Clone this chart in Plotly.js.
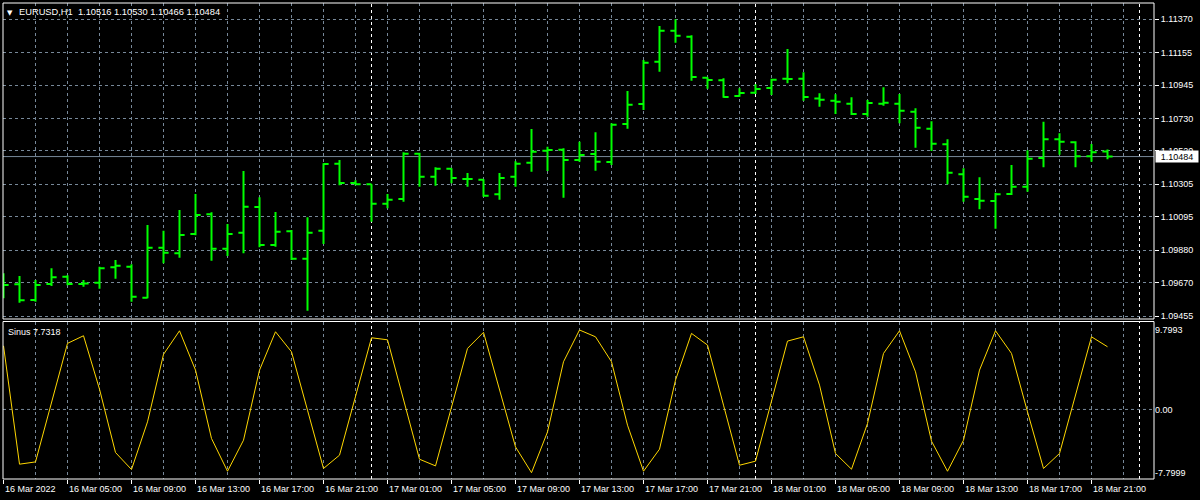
<!DOCTYPE html>
<html><head><meta charset="utf-8">
<script src="https://cdn.plot.ly/plotly-3.0.1.min.js"></script>
<style>html,body{margin:0;padding:0;background:#000;} #chart{width:1200px;height:500px;}</style>
</head><body><div id="chart"></div>
<script>
const symbol = 'EURUSD,H1';
const indicatorName = 'Sinus';
const startTime = '2022-03-16 01:00';

const open = [1.09640,1.09660,1.09558,1.09662,1.09709,1.09662,1.09670,1.09769,1.09773,1.09573,
1.09896,1.09860,1.09984,1.10111,1.09889,1.09993,1.10159,1.09913,1.10002,1.09825,
1.10006,1.10438,1.10313,1.10305,1.10180,1.10210,1.10503,1.10354,1.10406,1.10339,
1.10335,1.10241,1.10354,1.10444,1.10522,1.10528,1.10462,1.10501,1.10449,1.10694,
1.10823,1.11096,1.11296,1.11258,1.10993,1.10976,1.10875,1.10896,1.10927,1.10987,
1.10987,1.10858,1.10845,1.10825,1.10759,1.10825,1.10825,1.10774,1.10664,1.10563,
1.10370,1.10210,1.10197,1.10242,1.10290,1.10475,1.10595,1.10576,1.10486,1.10516];
const high = [1.09731,1.09713,1.09687,1.09763,1.09718,1.09687,1.09773,1.09816,1.09789,1.10042,
1.10006,1.10139,1.10242,1.10124,1.10049,1.10391,1.10221,1.10126,1.10010,1.10092,
1.10441,1.10462,1.10331,1.10306,1.10242,1.10512,1.10509,1.10415,1.10408,1.10378,
1.10338,1.10378,1.10453,1.10662,1.10548,1.10537,1.10580,1.10641,1.10699,1.10907,
1.11107,1.11327,1.11370,1.11267,1.10996,1.10989,1.10925,1.10950,1.10987,1.11178,
1.11028,1.10892,1.10886,1.10867,1.10849,1.10931,1.10888,1.10796,1.10712,1.10595,
1.10408,1.10350,1.10251,1.10430,1.10524,1.10709,1.10634,1.10583,1.10565,1.10530];
const low = [1.09569,1.09541,1.09547,1.09649,1.09653,1.09644,1.09631,1.09696,1.09547,1.09569,
1.09795,1.09831,1.09976,1.09812,1.09842,1.09860,1.09898,1.09902,1.09816,1.09489,
1.09920,1.10299,1.10299,1.10064,1.10150,1.10193,1.10290,1.10296,1.10311,1.10290,
1.10225,1.10206,1.10290,1.10386,1.10391,1.10219,1.10451,1.10393,1.10430,1.10664,
1.10785,1.11032,1.11219,1.10974,1.10922,1.10864,1.10870,1.10888,1.10881,1.10957,
1.10845,1.10806,1.10759,1.10752,1.10741,1.10812,1.10699,1.10541,1.10520,1.10305,
1.10193,1.10144,1.10018,1.10236,1.10257,1.10415,1.10496,1.10415,1.10451,1.10466];
const close = [1.09655,1.09556,1.09655,1.09705,1.09662,1.09665,1.09763,1.09780,1.09580,1.09896,
1.09864,1.09978,1.10107,1.09889,1.09984,1.10160,1.09913,1.09999,1.09825,1.09993,
1.10436,1.10313,1.10305,1.10180,1.10206,1.10503,1.10354,1.10406,1.10346,1.10340,
1.10231,1.10346,1.10438,1.10515,1.10526,1.10462,1.10494,1.10451,1.10690,1.10819,
1.11090,1.11296,1.11264,1.10998,1.10978,1.10868,1.10894,1.10920,1.10980,1.10985,
1.10868,1.10851,1.10838,1.10759,1.10830,1.10832,1.10780,1.10670,1.10567,1.10380,
1.10225,1.10199,1.10241,1.10290,1.10470,1.10595,1.10580,1.10486,1.10512,1.10484];

const sinus = [7.85,-6.75,-6.47,0.84,8.15,9.09,2.5,-5.31,-7.41,-1.53,
6.79,9.70,4.85,-3.58,-7.62,-3.79,4.85,9.58,7.11,-0.09,
-7.28,-5.64,1.5,8.84,8.59,1.27,-6.14,-6.96,0.28,7.53,
9.51,2.51,-4.62,-7.7999,-2.77,5.88,9.7993,8.96,5.88,-1.94,
-7.62,-4.90,3.62,9.38,7.94,0.53,-6.88,-6.38,1.02,8.43,
8.96,3.00,-5.43,-7.37,-1.73,6.91,9.70,4.64,-3.91,-7.62,
-3.79,4.85,9.70,6.91,-0.30,-7.28,-5.43,1.77,8.96,7.7318];

const priceTicks = [1.11370,1.11155,1.10945,1.10730,1.10520,1.10305,1.10095,1.09880,1.09670,1.09455];

const timeLabels = ['16 Mar 2022','16 Mar 05:00','16 Mar 09:00','16 Mar 13:00','16 Mar 17:00','16 Mar 21:00',
'17 Mar 01:00','17 Mar 05:00','17 Mar 09:00','17 Mar 13:00','17 Mar 17:00','17 Mar 21:00',
'18 Mar 01:00','18 Mar 05:00','18 Mar 09:00','18 Mar 13:00','18 Mar 17:00','18 Mar 21:00'];
const timeLabelAt = ['2022-03-16 01:00','2022-03-16 05:00','2022-03-16 09:00','2022-03-16 13:00','2022-03-16 17:00','2022-03-16 21:00',
'2022-03-17 01:00','2022-03-17 05:00','2022-03-17 09:00','2022-03-17 13:00','2022-03-17 17:00','2022-03-17 21:00',
'2022-03-18 01:00','2022-03-18 05:00','2022-03-18 09:00','2022-03-18 13:00','2022-03-18 17:00','2022-03-18 21:00'];
const daySeparators = ['2022-03-17 00:00','2022-03-18 00:00','2022-03-19 00:00'];

const HOUR = 3600000;
const t0 = Date.UTC(2022,2,16,1);
function fmt(ms){const d=new Date(ms);const p=n=>String(n).padStart(2,'0');
  return d.getUTCFullYear()+'-'+p(d.getUTCMonth()+1)+'-'+p(d.getUTCDate())+' '+p(d.getUTCHours())+':'+p(d.getUTCMinutes());}
const times = close.map((_,i)=>fmt(t0+i*HOUR));

const x0 = t0 - 0.03125*HOUR;
const x1 = x0 + (1151/16)*HOUR;

const gridColor = '#778899';
const dash = '3px,3px';
const font = {family:'Liberation Sans, Arial, sans-serif', size:9, color:'#ffffff'};

const n = close.length;
const lastO = open[n-1], lastH = high[n-1], lastL = low[n-1], lastC = close[n-1];
const sMax = Math.max(...sinus), sMin = Math.min(...sinus);

const traces = [
  {type:'ohlc', x:times, open:open, high:high, low:low, close:close, xaxis:'x', yaxis:'y',
   increasing:{line:{color:'#00ff00', width:2}}, decreasing:{line:{color:'#00ff00', width:2}},
   tickwidth:0.32, hoverinfo:'skip'},
  {type:'scatter', mode:'lines', x:times, y:sinus, xaxis:'x2', yaxis:'y2',
   line:{color:'#ffd700', width:1}, hoverinfo:'skip'}
];

const shapes = [];
daySeparators.forEach(t=>{
  shapes.push({type:'line', xref:'x', x0:t, x1:t, yref:'y domain', y0:0, y1:1, line:{color:'#ffffff', width:1, dash:dash}, layer:'below'});
  shapes.push({type:'line', xref:'x2', x0:t, x1:t, yref:'y2 domain', y0:0, y1:1, line:{color:'#ffffff', width:1, dash:dash}, layer:'below'});
});
shapes.push({type:'line', xref:'x domain', x0:0, x1:1, yref:'y', y0:lastC, y1:lastC, line:{color:gridColor, width:1}, layer:'below'});
shapes.push({type:'line', xref:'x2 domain', x0:0, x1:1, yref:'y2', y0:0, y1:0, line:{color:gridColor, width:1, dash:dash}, layer:'below'});
shapes.push({type:'rect', xref:'x domain', x0:0, x1:1, yref:'y domain', y0:0, y1:1, line:{color:'#ffffff', width:1}, layer:'above'});
shapes.push({type:'rect', xref:'x2 domain', x0:0, x1:1, yref:'y2 domain', y0:0, y1:1, line:{color:'#ffffff', width:1}, layer:'above'});

function lastVal(){return sinus[n-1].toFixed(4);}
const annotations = [
  {xref:'paper', x:0, xanchor:'left', xshift:2, yref:'paper', y:1, yanchor:'top', yshift:-4,
   text:'▼', font:{family:'DejaVu Sans', size:7, color:'#ffffff'}, showarrow:false},
  {xref:'paper', x:0, xanchor:'left', xshift:14, yref:'paper', y:1, yanchor:'top', yshift:-2,
   text:symbol+'\u00a0\u00a0'+[lastO,lastH,lastL,lastC].map(v=>v.toFixed(5)).join(' '), font:{family:font.family, size:9.3, color:'#ffffff'}, showarrow:false},
  {xref:'paper', x:0, xanchor:'left', xshift:3, yref:'y2 domain', y:1, yanchor:'top', yshift:-3,
   text:indicatorName+' '+lastVal(), font:font, showarrow:false},
  {xref:'paper', x:1, xanchor:'left', xshift:1, yref:'y', y:lastC, yanchor:'middle',
   text:lastC.toFixed(5), font:{family:font.family, size:9, color:'#000000'}, bgcolor:'#ffffff',
   width:40, height:9, borderpad:1, showarrow:false}
];
timeLabels.forEach((lab,i)=>{
  annotations.push({xref:'x2', x:timeLabelAt[i], xanchor:'left', xshift:-1, yref:'paper', y:0, yanchor:'top', yshift:-3,
    text:lab, font:font, showarrow:false});
});

const layout = {
  width:1200, height:500, paper_bgcolor:'#000000', plot_bgcolor:'#000000',
  margin:{l:3, r:46, t:3, b:21}, showlegend:false, font:font,
  xaxis:{type:'date', domain:[0,1], anchor:'y', range:[x0,x1], rangeslider:{visible:false},
    showticklabels:false, ticks:'', tick0:startTime, dtick:2*HOUR, showgrid:true, gridcolor:gridColor,
    griddash:dash, gridwidth:1, zeroline:false, showline:false, fixedrange:true},
  yaxis:{domain:[0.33613,1], anchor:'x', side:'right', range:[1.094356,1.114752], tickmode:'array',
    tickvals:priceTicks, ticktext:priceTicks.map(v=>v.toFixed(5)), ticks:'outside', ticklen:4, tickcolor:'#ffffff',
    tickfont:font, showgrid:true, gridcolor:gridColor, griddash:dash, zeroline:false, showline:false, fixedrange:true},
  xaxis2:{type:'date', domain:[0,1], anchor:'y2', matches:'x', range:[x0,x1], rangeslider:{visible:false},
    showticklabels:false, ticks:'outside', ticklen:4, tickcolor:'#ffffff', tick0:startTime, dtick:4*HOUR,
    showgrid:true, gridcolor:gridColor, griddash:dash, zeroline:false, showline:false,
    minor:{tick0:startTime, dtick:2*HOUR, showgrid:true, gridcolor:gridColor, griddash:dash, ticks:''}},
  yaxis2:{domain:[0,0.33088], anchor:'x2', side:'right', range:[-8.578,10.847], tickmode:'array',
    tickvals:[sMax,0,sMin], ticktext:[sMax.toFixed(4),'0.00',sMin.toFixed(4)], ticks:'', showgrid:false,
    zeroline:false, showline:false, tickfont:font, fixedrange:true},
  shapes:shapes, annotations:annotations
};

Plotly.newPlot('chart', traces, layout, {staticPlot:true, displayModeBar:false});
</script>
</body></html>
